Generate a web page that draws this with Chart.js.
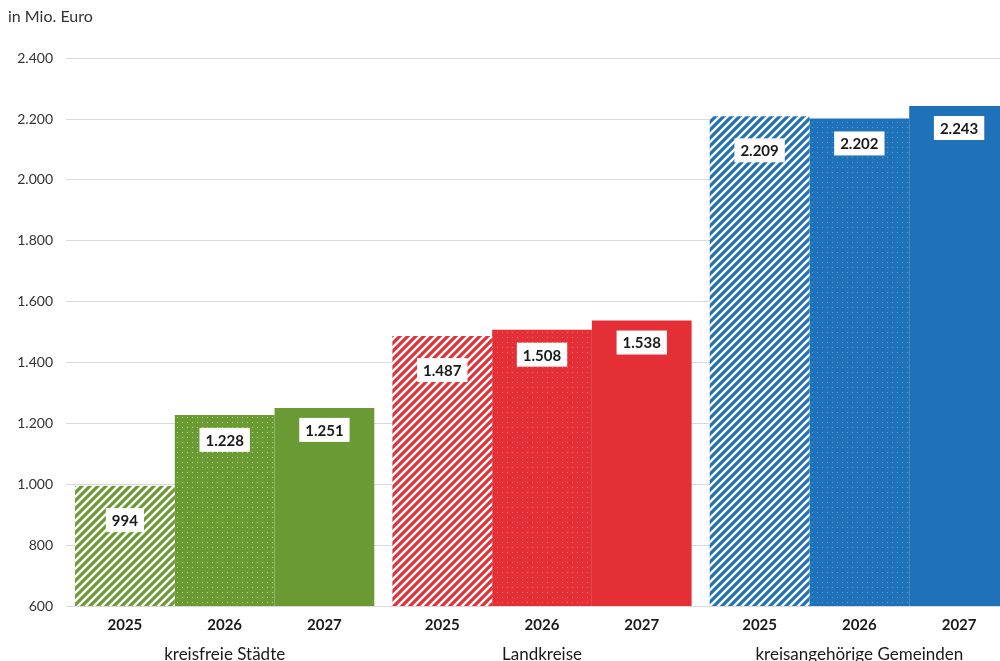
<!DOCTYPE html>
<html>
<head>
    <meta charset="utf-8">
    <title>Zuweisungen in Mio. Euro</title>
    <script src="https://cdn.jsdelivr.net/npm/chart.js@4"></script>
    <style>
        html, body {
            margin: 0;
            padding: 0;
            background: #fff;
            overflow: hidden;
        }

        .chart {
            position: relative;
            width: 1018px;
            height: 661px;
        }
    </style>
</head>
<body>
<div class="chart">
    <canvas id="chart"></canvas>
</div>

<script>
    const groups = ['kreisfreie Städte', 'Landkreise', 'kreisangehörige Gemeinden'];
    const years = ['2025', '2026', '2027'];
    const values2025 = [994, 1487, 2209];
    const values2026 = [1228, 1508, 2202];
    const values2027 = [1251, 1538, 2243];
    const yMin = 600;
    const yMax = 2400;
    const yStep = 200;

    const groupColors = ['#6a9a34', '#e52f37', '#1f71b8'];
    const dotColors = ['#b9d86c', '#f0676c', '#5a9cd6'];
    const baseFont = 'Lato, "Open Sans", sans-serif';

    // german thousands separator: 2400 -> 2.400
    function fmt(n) {
        return String(n).replace(/\B(?=(\d{3})+(?!\d))/g, '.');
    }

    function stripes(color) {
        const s = 8;
        const c = document.createElement('canvas');
        c.width = s;
        c.height = s;
        const g = c.getContext('2d');
        g.fillStyle = '#fff';
        g.fillRect(0, 0, s, s);
        g.strokeStyle = color;
        g.lineWidth = 3.2;
        g.beginPath();
        g.moveTo(0, s); g.lineTo(s, 0);
        g.moveTo(-2, 2); g.lineTo(2, -2);
        g.moveTo(s - 2, s + 2); g.lineTo(s + 2, s - 2);
        g.stroke();
        return g.createPattern(c, 'repeat');
    }

    function dots(color, dot) {
        const s = 5;
        const c = document.createElement('canvas');
        c.width = s;
        c.height = s;
        const g = c.getContext('2d');
        g.fillStyle = color;
        g.fillRect(0, 0, s, s);
        g.fillStyle = dot;
        g.fillRect(2, 2, 1, 1);
        return g.createPattern(c, 'repeat');
    }

    // value boxes, year labels under each bar, group names below
    const barLabels = {
        id: 'barLabels',
        afterDatasetsDraw(chart, args, opts) {
            const ctx = chart.ctx;
            const bottom = chart.chartArea.bottom;
            const xScale = chart.scales.x;
            ctx.save();
            ctx.textAlign = 'center';
            ctx.textBaseline = 'middle';
            chart.data.datasets.forEach((ds, di) => {
                const meta = chart.getDatasetMeta(di);
                meta.data.forEach((bar, i) => {
                    ctx.font = 'bold 15px ' + baseFont;
                    ctx.fillStyle = '#1a1a1a';
                    ctx.fillText(ds.label, bar.x, bottom + 19);

                    const txt = fmt(ds.data[i]);
                    ctx.font = 'bold 15px ' + baseFont;
                    const w = ctx.measureText(txt).width + 12;
                    const h = 24;
                    const cy = bar.y + opts.offsets[di];
                    ctx.fillStyle = '#fff';
                    ctx.fillRect(bar.x - w / 2, cy - h / 2, w, h);
                    ctx.fillStyle = '#1a1a1a';
                    ctx.fillText(txt, bar.x, cy + 1);
                });
            });
            ctx.font = '17px ' + baseFont;
            chart.data.labels.forEach((lab, i) => {
                ctx.fillText(lab, xScale.getPixelForValue(i), bottom + 49);
            });
            ctx.restore();
        }
    };

    const ctx = document.getElementById('chart').getContext('2d');
    const chart = new Chart(ctx, {
        type: 'bar',
        data: {
            labels: groups,
            datasets: [{
                label: years[0],
                data: values2025,
                backgroundColor: groupColors.map(c => stripes(c))
            }, {
                label: years[1],
                data: values2026,
                backgroundColor: groupColors.map((c, i) => dots(c, dotColors[i]))
            }, {
                label: years[2],
                data: values2027,
                backgroundColor: groupColors
            }]
        },
        options: {
            responsive: true,
            maintainAspectRatio: false,
            animation: false,
            layout: {
                padding: {left: 8, top: 0, right: 0, bottom: 55}
            },
            datasets: {
                bar: {
                    categoryPercentage: 0.943,
                    barPercentage: 1,
                    borderWidth: 0
                }
            },
            plugins: {
                legend: {display: false},
                tooltip: {enabled: false},
                title: {
                    display: true,
                    text: 'in Mio. Euro',
                    align: 'start',
                    color: '#333',
                    font: {family: baseFont, size: 16, weight: 'normal'},
                    padding: {top: 7, bottom: 32}
                },
                barLabels: {
                    offsets: [34, 25, 22]
                }
            },
            scales: {
                x: {
                    display: false
                },
                y: {
                    min: yMin,
                    max: yMax,
                    grid: {color: '#d9d9d9', drawTicks: false},
                    border: {display: false},
                    ticks: {
                        stepSize: yStep,
                        padding: 13,
                        color: '#333',
                        font: {family: baseFont, size: 14},
                        callback: v => fmt(v)
                    },
                    afterFit: scale => {
                        scale.width = 58;
                    }
                }
            }
        },
        plugins: [barLabels]
    });
</script>
</body>
</html>
